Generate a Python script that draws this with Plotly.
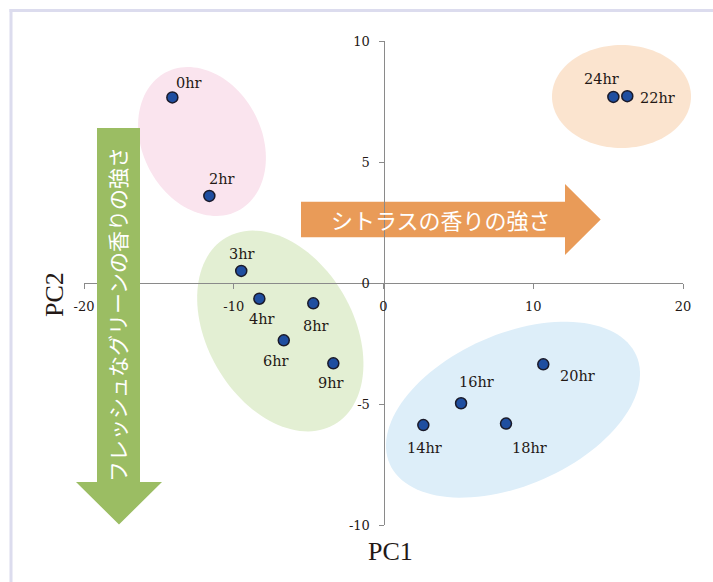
import math
import plotly.graph_objects as go

# ---- data ----
sample_names = ["0hr", "2hr", "3hr", "4hr", "6hr", "8hr", "9hr",
                "14hr", "16hr", "18hr", "20hr", "22hr", "24hr"]
pc1_values = [-14.1, -11.63, -9.5, -8.29, -6.66, -4.69, -3.35,
              2.66, 5.18, 8.18, 10.67, 16.28, 15.35]
pc2_values = [7.67, 3.6, 0.5, -0.65, -2.37, -0.84, -3.32,
              -5.87, -4.97, -5.81, -3.36, 7.72, 7.69]
x_tick_values = [-20, -10, 0, 10, 20]
x_tick_labels = ["-20", "-10", "0", "10", "20"]
y_tick_values = [-10, -5, 0, 5, 10]
y_tick_labels = ["-10", "-5", "0", "5", "10"]
x_title = "PC1"
y_title = "PC2"
citrus_text = "シトラスの香りの強さ"
green_text = "フレッシュなグリーンの香りの強さ"

# ---- layout geometry (pixels) ----
W, H = 713, 582
L, R, T, B = 84, 30, 41, 57
PW, PH = W - L - R, H - T - B

def paper(px, py):
    return (px - L) / PW, (H - B - py) / PH

def poly_path(pts):
    s = []
    for i, (px, py) in enumerate(pts):
        x, y = paper(px, py)
        s.append(("M" if i == 0 else "L") + f"{x:.5f},{y:.5f}")
    return " ".join(s) + " Z"

def ellipse_path(cx, cy, a, b, phi_deg, n=120):
    phi = math.radians(phi_deg)
    pts = []
    for k in range(n):
        t = 2 * math.pi * k / n
        ex = a * math.cos(t) * math.cos(phi) - b * math.sin(t) * math.sin(phi)
        ey = a * math.cos(t) * math.sin(phi) + b * math.sin(t) * math.cos(phi)
        pts.append((cx + ex, cy - ey))
    return poly_path(pts)

# label offsets (pixels: right, up)
label_offsets = {
    "0hr": (17, 14), "2hr": (13, 17), "3hr": (1, 17), "4hr": (3, -20),
    "6hr": (-8, -21), "8hr": (3, -23), "9hr": (-2, -20), "14hr": (1, -23),
    "16hr": (15, 21), "18hr": (23, -24), "20hr": (34, -12),
    "22hr": (30, -2), "24hr": (-12, 18),
}

serif = "DejaVu Serif"
jp = "Noto Sans CJK JP"
axis_col = "#8a8a8a"
txt_col = "#231815"

fig = go.Figure()
fig.add_trace(go.Scatter(
    x=pc1_values, y=pc2_values, mode="markers",
    marker=dict(size=11, color="#1f4ea0", line=dict(width=1.5, color="#1a1a2a")),
    hoverinfo="text", text=sample_names, showlegend=False,
))

shapes = []
# group ellipses
ellipses = [
    ((202, 141.5, 78, 59.5, 117.5), "#fae4ee"),
    ((280.3, 331, 108, 73, 120), "#e3efd3"),
    ((513, 409.7, 134.7, 75.7, 23.7), "#ddeef9"),
    ((621.5, 96.5, 69.5, 51.5, 0), "#fbe4cf"),
]
for (cx, cy, a, b, ph), col in ellipses:
    shapes.append(dict(type="path", xref="paper", yref="paper", layer="below",
                       path=ellipse_path(cx, cy, a, b, ph),
                       fillcolor=col, line=dict(width=0)))
# orange arrow (below axis)
shapes.append(dict(type="path", xref="paper", yref="paper", layer="below",
                   path=poly_path([(301, 201.7), (565, 201.7), (565, 184), (600.7, 219.5),
                                   (565, 255), (565, 237.3), (301, 237.3)]),
                   fillcolor="#e99b58", line=dict(width=0)))
# green arrow (above axis)
shapes.append(dict(type="path", xref="paper", yref="paper", layer="above",
                   path=poly_path([(97, 128), (140, 128), (140, 482), (162, 482),
                                   (119, 524.5), (76, 482), (97, 482)]),
                   fillcolor="#9bbd63", line=dict(width=0)))
# frame lines
x0, y0 = paper(11, 10.5)
x1, _ = paper(W + 5, 10.5)
_, y1 = paper(11, H + 5)
shapes.append(dict(type="line", xref="paper", yref="paper", layer="above",
                   x0=paper(9.5, 0)[0], y0=y0, x1=x1, y1=y0,
                   line=dict(color="#dcdcee", width=3)))
shapes.append(dict(type="line", xref="paper", yref="paper", layer="above",
                   x0=x0, y0=paper(0, 9)[1], x1=x0, y1=y1,
                   line=dict(color="#dcdcee", width=3)))

annotations = []
for name, xv, yv in zip(sample_names, pc1_values, pc2_values):
    dx, dy = label_offsets[name]
    annotations.append(dict(x=xv, y=yv, xref="x", yref="y", text=name, showarrow=False,
                            xshift=dx, yshift=dy, xanchor="center", yanchor="middle",
                            font=dict(family=serif, size=14.5, color=txt_col)))

def paper_text(px, py, text, font, angle=0):
    x, y = paper(px, py)
    annotations.append(dict(x=x, y=y, xref="paper", yref="paper", text=text,
                            showarrow=False, textangle=angle,
                            xanchor="center", yanchor="middle", font=font))

paper_text(441, 219.5, citrus_text, dict(family=jp, size=22, color="white"))
paper_text(117, 315, green_text, dict(family=jp, size=21, color="white"), -90)
paper_text(390, 551, x_title, dict(family="Liberation Serif", size=26, color=txt_col))
paper_text(54, 295, y_title, dict(family="Liberation Serif", size=26, color=txt_col), -90)

fig.update_layout(
    width=W, height=H,
    margin=dict(l=L, r=R, t=T, b=B, pad=0),
    paper_bgcolor="white", plot_bgcolor="rgba(0,0,0,0)",
    showlegend=False,
    shapes=shapes, annotations=annotations,
    xaxis=dict(range=[-20, 20], anchor="free", position=0.5, domain=[0, 1],
               showgrid=False, zeroline=False, showline=True, linecolor=axis_col,
               linewidth=1, ticks="outside", ticklen=5, tickcolor=axis_col,
               tickvals=x_tick_values, ticktext=x_tick_labels,
               ticklabelstandoff=6,
               tickfont=dict(family=serif, size=13, color=txt_col), fixedrange=True),
    yaxis=dict(range=[-10, 10], anchor="free", position=0.5, domain=[0, 1],
               showgrid=False, zeroline=False, showline=True, linecolor=axis_col,
               linewidth=1, ticks="outside", ticklen=5, tickcolor=axis_col,
               tickvals=y_tick_values, ticktext=y_tick_labels,
               ticklabelstandoff=6,
               tickfont=dict(family=serif, size=13, color=txt_col), fixedrange=True),
)

fig.write_html("out.html", config={"displayModeBar": False},
               post_script="document.body.style.margin='0';document.body.style.padding='0';")
